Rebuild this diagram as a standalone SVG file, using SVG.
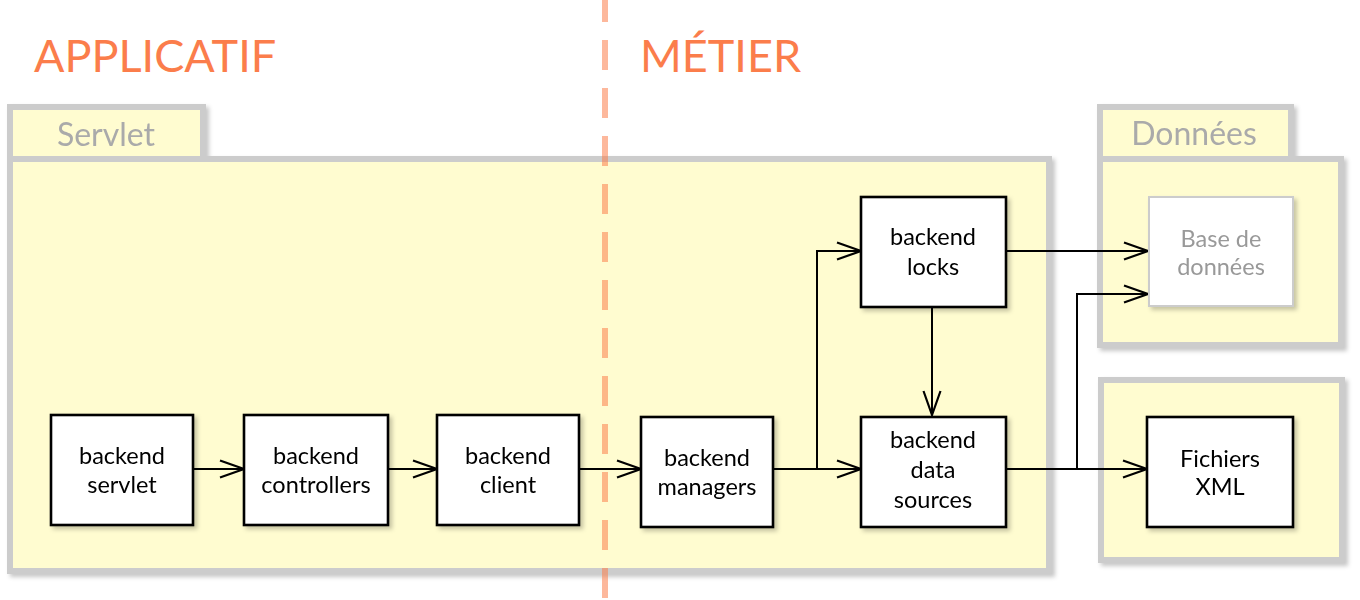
<svg xmlns="http://www.w3.org/2000/svg" width="1360" height="600" viewBox="0 0 1360 600">
  <defs>
    <filter id="sh" x="-10%" y="-10%" width="130%" height="130%">
      <feDropShadow dx="3" dy="3" stdDeviation="2" flood-color="#000" flood-opacity="0.22"/>
    </filter>
    <marker id="arr" markerUnits="userSpaceOnUse" markerWidth="32" markerHeight="24" viewBox="-28 -12 32 24" refX="0" refY="0" orient="auto">
      <path d="M-24,-8.5 L0,0 L-24,8.5" fill="none" stroke="#000" stroke-width="2.2"/>
    </marker>
    <style>
      .cont { fill: #fffcd0; stroke: #cccccc; stroke-width: 6; }
      .node { fill: #ffffff; stroke: #000000; stroke-width: 2.6; }
      .node2 { fill: #ffffff; stroke: #cccccc; stroke-width: 2; }
      .lbl { font-family: Lato, "Open Sans", "DejaVu Sans", sans-serif; font-size: 23.5px; fill: #000; text-anchor: middle; }
      .lbl2 { font-family: Lato, "Open Sans", "DejaVu Sans", sans-serif; font-size: 23.5px; fill: #999999; text-anchor: middle; }
      .tab { font-family: Lato, "Open Sans", "DejaVu Sans", sans-serif; font-size: 32px; fill: #aaaaaa; text-anchor: middle; }
      .head { font-family: Lato, "Open Sans", "DejaVu Sans", sans-serif; font-size: 45px; fill: #fb7d4b; }
      .conn { fill: none; stroke: #000; stroke-width: 2; marker-end: url(#arr); }
    </style>
  </defs>
  <rect width="1360" height="600" fill="#ffffff"/>

  <g id="servlet-container" filter="url(#sh)">
    <rect class="cont" x="10" y="107" width="193" height="52"/>
    <rect class="cont" x="10" y="159" width="1039" height="412"/>
    <text class="tab" x="106" y="146">Servlet</text>
  </g>
  <g id="donnees-container" filter="url(#sh)">
    <rect class="cont" x="1100" y="107" width="191" height="52"/>
    <rect class="cont" x="1100" y="159" width="241" height="186"/>
    <text class="tab" x="1194" y="145">Données</text>
  </g>
  <g id="fichiers-container" filter="url(#sh)">
    <rect class="cont" x="1101" y="380" width="241" height="180"/>
  </g>

  <g id="connectors">
    <path class="conn" d="M193,469 L244,469"/>
    <path class="conn" d="M388,469 L437,469"/>
    <path class="conn" d="M579,469 L641,469"/>
    <path class="conn" d="M773,469 L861,469"/>
    <path class="conn" d="M817,469 L817,251 L861,251"/>
    <path class="conn" d="M932,307 L932,415"/>
    <path class="conn" d="M1006,251 L1148,251"/>
    <path class="conn" d="M1006,469 L1147,469"/>
    <path class="conn" d="M1077,469 L1077,294 L1148,294"/>
  </g>

  <g id="backend-servlet" filter="url(#sh)">
    <rect class="node" x="51" y="415" width="142" height="110"/>
    <text class="lbl" x="122" y="464">backend</text>
    <text class="lbl" x="122" y="493">servlet</text>
  </g>
  <g id="backend-controllers" filter="url(#sh)">
    <rect class="node" x="244" y="415" width="144" height="110"/>
    <text class="lbl" x="316" y="464">backend</text>
    <text class="lbl" x="316" y="493">controllers</text>
  </g>
  <g id="backend-client" filter="url(#sh)">
    <rect class="node" x="437" y="415" width="142" height="110"/>
    <text class="lbl" x="508" y="464">backend</text>
    <text class="lbl" x="508" y="493">client</text>
  </g>
  <g id="backend-managers" filter="url(#sh)">
    <rect class="node" x="641" y="417" width="132" height="110"/>
    <text class="lbl" x="707" y="466">backend</text>
    <text class="lbl" x="707" y="495">managers</text>
  </g>
  <g id="backend-locks" filter="url(#sh)">
    <rect class="node" x="861" y="197" width="145" height="110"/>
    <text class="lbl" x="933" y="245">backend</text>
    <text class="lbl" x="933" y="275">locks</text>
  </g>
  <g id="backend-data-sources" filter="url(#sh)">
    <rect class="node" x="861" y="417" width="145" height="110"/>
    <text class="lbl" x="933" y="448">backend</text>
    <text class="lbl" x="933" y="478">data</text>
    <text class="lbl" x="933" y="508">sources</text>
  </g>
  <g id="base-de-donnees" filter="url(#sh)">
    <rect class="node2" x="1149" y="197" width="144" height="109"/>
    <text class="lbl2" x="1221" y="247">Base de</text>
    <text class="lbl2" x="1221" y="275">données</text>
  </g>
  <g id="fichiers-xml" filter="url(#sh)">
    <rect class="node" x="1147" y="417" width="146" height="110"/>
    <text class="lbl" x="1220" y="467">Fichiers</text>
    <text class="lbl" x="1220" y="495">XML</text>
  </g>

  <g id="separator">
    <line x1="605" y1="0" x2="605" y2="600" stroke="#fb7d4b" stroke-opacity="0.55" stroke-width="6" stroke-dasharray="30 18" stroke-dashoffset="8"/>
  </g>
  <g id="headings">
    <text class="head" x="34" y="72">APPLICATIF</text>
    <text class="head" x="640" y="72">MÉTIER</text>
  </g>
</svg>
